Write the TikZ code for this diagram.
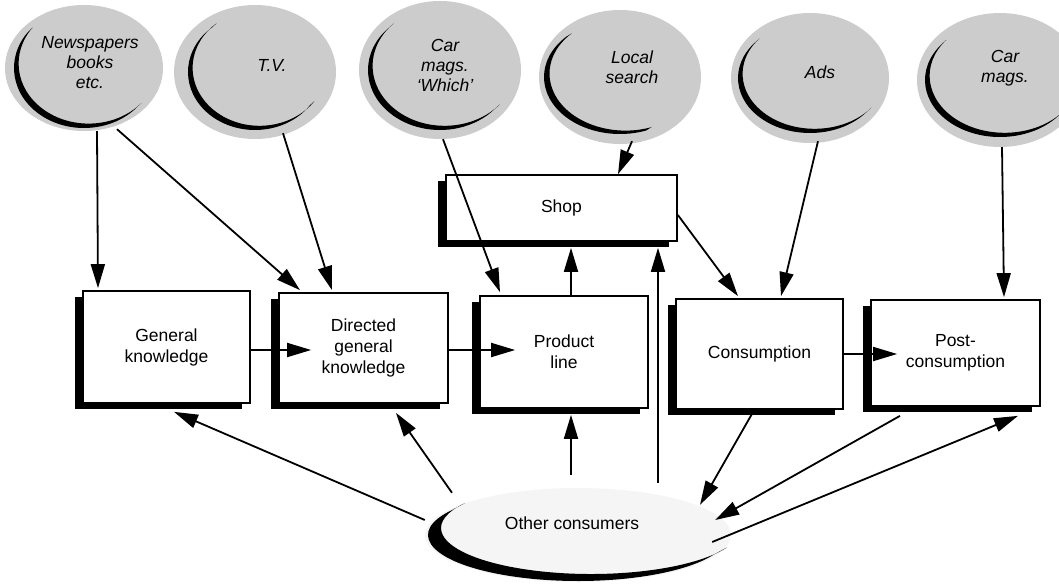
\documentclass[tikz,border=0pt]{standalone}
\usepackage{fontspec}
\setmainfont{Liberation Sans}
\usetikzlibrary{shapes.geometric,arrows.meta,shadows}
\newcommand{\crescent}[7]{%
  \fill[black] (#1) ++({#2*cos(#4)},{#3*sin(#4)})
    arc[start angle=#4,end angle=#5,x radius=#2,y radius=#3]
    -- ++(#6,#7)
    arc[start angle=#5,end angle=#4,x radius=#2,y radius=#3] -- cycle;}
\begin{document}
\begin{tikzpicture}[x=1pt,y=1pt,
  every node/.style={font=\fontsize{17.5pt}{21pt}\selectfont},
  box/.style={draw, line width=1.7pt, fill=white, inner sep=0pt, align=center,
    drop shadow={shadow xshift=-8pt, shadow yshift=-6pt, opacity=1, fill=black}},
  cloud/.style={ellipse, fill=black!20, inner sep=0pt},
  ocloud/.style={ellipse, fill=black!4, inner sep=0pt},
  ctext/.style={font=\fontsize{17.5pt}{20pt}\selectfont\itshape, align=center},
  arr/.style={line width=1.8pt, -{Triangle[length=24pt,width=14pt]}}]
\useasboundingbox[fill=white] (0,0) rectangle (1059,-583);

% source clouds
\node[cloud, minimum width=158pt, minimum height=126pt,
  label={[ctext,xshift=6pt,yshift=5pt]center:Newspapers\\books\\etc.}] (np) at (84,-68) {};
\node[cloud, minimum width=162pt, minimum height=134pt,
  label={[ctext,xshift=17pt,yshift=7pt]center:T.V.}] (tv) at (255,-72) {};
\node[cloud, minimum width=162pt, minimum height=138pt,
  label={[ctext,xshift=5pt,yshift=5pt]center:Car\\mags.\\`Which'}] (cw) at (440,-70) {};
\node[cloud, minimum width=162pt, minimum height=134pt,
  label={[ctext,xshift=12pt,yshift=10pt]center:Local\\search}] (ls) at (620,-77) {};
\node[cloud, minimum width=158pt, minimum height=130pt,
  label={[ctext,xshift=10pt,yshift=6pt]center:Ads}] (ads) at (810,-78) {};
\node[cloud, minimum width=166pt, minimum height=134pt,
  label={[ctext,xshift=5pt,yshift=12pt]center:Car\\mags.}] (cm) at (1000,-80) {};
\node[ocloud, minimum width=306pt, minimum height=94pt,
  label={[xshift=-6pt,yshift=12pt]center:Other consumers}] (oc) at (578,-535) {};

\crescent{np.center}{70}{60}{143}{319}{4.6}{4.4}
\crescent{tv.center}{67}{58}{130}{325}{4.6}{4.2}
\crescent{cw.center}{72}{60}{135}{320}{4.6}{4.2}
\crescent{ls.center}{76}{57}{135}{290}{5.5}{3.4}
\crescent{ads.center}{72}{55}{140}{322}{4.6}{4.2}
\crescent{cm.center}{75}{57}{141}{320}{4.6}{4.2}
\crescent{oc.center}{150}{46}{147}{335}{13}{7}

% stage boxes
\node[box, minimum width=167pt, minimum height=112pt] (gk) at (166.5,-347) {General\\knowledge};
\node[box, minimum width=169pt, minimum height=110pt] (dir) at (363.5,-348) {Directed\\general\\knowledge};
\node[box, minimum width=168pt, minimum height=112pt] (prod) at (564,-352) {Product\\line};
\node[box, minimum width=167pt, minimum height=110pt] (cons) at (759.5,-354) {Consumption};
\node[box, minimum width=169pt, minimum height=106pt] (post) at (955.5,-353) {Post-\\consumption};
\node[box, minimum width=231pt, minimum height=66pt] (shop) at (561.5,-208) {Shop};

% arrows from sources
\draw[arr] ([xshift=13pt]np.south) -- ([xshift=-68.5pt,yshift=2pt]gk.north);
\draw[arr] ([xshift=33pt,yshift=2pt]np.south) -- ([xshift=-63.5pt,yshift=2pt]dir.north);
\draw[arr] ([xshift=28pt,yshift=6pt]tv.south) -- ([xshift=-31.5pt,yshift=2pt]dir.north);
\draw[arr] ([xshift=3pt]cw.south) -- ([xshift=-64pt,yshift=3pt]prod.north);
\draw[arr] ([xshift=12pt,yshift=3pt]ls.south) -- ([xshift=56.5pt]shop.north);
\draw[arr] ([xshift=8pt,yshift=2pt]ads.south) -- ([xshift=21.5pt,yshift=2pt]cons.north);
\draw[arr] ([xshift=2pt]cm.south) -- ([xshift=48.5pt,yshift=2pt]post.north);

% chain
\draw[arr] ([yshift=-3pt]gk.east) -- ([xshift=33pt,yshift=-2pt]dir.west);
\draw[arr] ([yshift=-2pt]dir.east) -- ([xshift=36pt,yshift=2pt]prod.west);
\draw[arr] (cons.east) -- ([xshift=27pt,yshift=-1pt]post.west);

% shop
\draw[arr] ([xshift=7pt]prod.north) -- ([xshift=9.5pt,yshift=-6pt]shop.south);
\draw[arr] ([xshift=80pt,yshift=5pt]oc.north) -- ([xshift=96.5pt,yshift=-6pt]shop.south);
\draw[arr] ([yshift=-7pt]shop.east) -- ([xshift=-21.5pt,yshift=2pt]cons.north);

% other consumers
\draw[arr] ([yshift=15pt]oc.west) -- ([xshift=7.5pt,yshift=-8pt]gk.south);
\draw[arr] ([xshift=-126pt,yshift=-5pt]oc.north) -- ([xshift=32.5pt,yshift=-9pt]dir.south);
\draw[arr] ([xshift=-7pt,yshift=13pt]oc.north) -- ([xshift=7pt,yshift=-6pt]prod.south);
\draw[arr] ([xshift=-7.5pt,yshift=-4pt]cons.south) -- ([xshift=122pt,yshift=-17pt]oc.north);
\draw[arr] ([xshift=-55.5pt,yshift=-9pt]post.south) -- ([xshift=-16pt,yshift=15pt]oc.east);
\draw[arr] ([xshift=-19pt,yshift=-7pt]oc.east) -- ([xshift=62.5pt,yshift=-9pt]post.south);
\end{tikzpicture}
\end{document}
